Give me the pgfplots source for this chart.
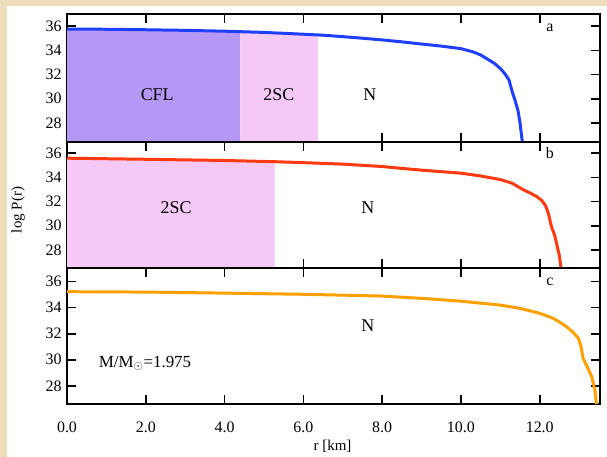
\documentclass[border=0pt]{standalone}
\usepackage{fontspec}
\setmainfont{Liberation Serif}
\usepackage{pgfplots}
\pgfplotsset{compat=1.18}
\definecolor{bg}{HTML}{EEDDBB}
\definecolor{cfl}{HTML}{B598F5}
\definecolor{tsc}{HTML}{F5C8F5}
\definecolor{cblue}{HTML}{1F3FFF}
\definecolor{cred}{HTML}{FF3A10}
\definecolor{corange}{HTML}{FFA000}
\pgfplotsset{panel/.style={scale only axis, width=533bp, xmin=0, xmax=13.53,
  xtick={0,2,4,6,8,10,12}, ytick={28,30,32,34,36},
  axis line style={line width=1.4pt},
  major tick length=9bp,
  tick style={black, line width=1.6pt},
  tick label style={font=\fontsize{16}{18}\selectfont},
  yticklabel style={xshift=-2bp},
  xticklabel style={yshift=-14bp},
  /pgf/number format/assume math mode=true,
  anchor=north west}}
\begin{document}
\begin{tikzpicture}
\useasboundingbox (0,0) rectangle (607bp,-457bp);
\fill[bg] (0,0) rectangle (607bp,-457bp);
\fill[white] (7bp,-6bp) rectangle (607bp,-457bp);
% panel a
\begin{axis}[panel, at={(67bp,-14bp)}, height=128bp, ymin=26.43, ymax=37.0, xticklabels={}]
\addplot[fill=cfl, draw=none] coordinates {(0,35.75) (1,35.74) (2,35.70) (3,35.65) (4,35.58) (4.4,35.54)} \closedcycle;
\addplot[fill=tsc, draw=none] coordinates {(4.4,35.54) (5,35.48) (6,35.33) (6.37,35.27)} \closedcycle;
\addplot[cblue, line width=3pt] coordinates {(0,35.75) (1,35.74) (2,35.70) (3,35.65) (4,35.58) (5,35.48) (6,35.33) (6.5,35.25) (7,35.13) (7.5,35.0) (8,34.86) (8.5,34.70) (9,34.52) (9.5,34.35) (10,34.14) (10.3,33.88) (10.5,33.62) (10.66,33.3) (10.85,32.92) (11.0,32.5) (11.12,32.05) (11.22,31.55) (11.3,30.6) (11.37,29.9) (11.45,29.0) (11.5,28.0) (11.56,26.4)};
\node[anchor=base, font=\fontsize{18}{20}\selectfont] at (axis cs:2.29,29.83) {CFL};
\node[anchor=base, font=\fontsize{18}{20}\selectfont] at (axis cs:5.38,29.83) {2SC};
\node[anchor=base, font=\fontsize{18}{20}\selectfont] at (axis cs:7.69,29.83) {N};
\node[anchor=base, font=\fontsize{16}{18}\selectfont] at (axis cs:12.26,35.53) {a};
\end{axis}
% panel b
\begin{axis}[panel, at={(67bp,-142bp)}, height=126bp, ymin=26.5, ymax=36.93, xticklabels={}]
\addplot[fill=tsc, draw=none] coordinates {(0,35.59) (2,35.5) (4,35.4) (5.27,35.3)} \closedcycle;
\addplot[cred, line width=3pt] coordinates {(0,35.59) (2,35.5) (4,35.4) (5.27,35.3) (6,35.22) (7,35.1) (8,34.9) (8.45,34.76) (9,34.6) (10,34.35) (10.5,34.12) (11,33.82) (11.3,33.52) (11.57,33.0) (11.75,32.72) (11.92,32.42) (12.05,32.1) (12.15,31.65) (12.22,31.0) (12.3,29.9) (12.38,29.2) (12.43,28.5) (12.5,27.5) (12.54,26.5)};
\node[anchor=base, font=\fontsize{18}{20}\selectfont] at (axis cs:2.77,30.98) {2SC};
\node[anchor=base, font=\fontsize{18}{20}\selectfont] at (axis cs:7.64,30.98) {N};
\node[anchor=base, font=\fontsize{16}{18}\selectfont] at (axis cs:12.26,35.59) {b};
\end{axis}
% panel c
\begin{axis}[panel, at={(67bp,-268bp)}, height=136bp, ymin=26.6, ymax=37.05,
  xticklabels={0.0,2.0,4.0,6.0,8.0,10.0,12.0}]
\addplot[corange, line width=3pt] coordinates {(0,35.23) (2,35.2) (4,35.12) (6,35.03) (7.94,34.9) (9,34.72) (10,34.5) (11,34.2) (11.5,33.95) (12,33.57) (12.2,33.35) (12.34,33.18) (12.5,32.9) (12.68,32.54) (12.85,32.1) (12.98,31.65) (13.05,31.0) (13.1,30.1) (13.2,29.5) (13.32,28.7) (13.4,27.7) (13.44,26.6)};
\node[anchor=base, font=\fontsize{18}{20}\selectfont] at (axis cs:7.64,32.17) {N};
\node[anchor=base west, font=\fontsize{17}{20}\selectfont] at (axis cs:0.72,29.43) {M/M$_\odot$=1.975};
\node[anchor=base, font=\fontsize{16}{18}\selectfont] at (axis cs:12.26,35.67) {c};
\end{axis}
\node[rotate=90, font=\fontsize{15}{18}\selectfont] at (18bp,-210bp) {log P(r)};
\node[font=\fontsize{15}{18}\selectfont] at (332.5bp,-446bp) {r [km]};
\end{tikzpicture}
\end{document}
